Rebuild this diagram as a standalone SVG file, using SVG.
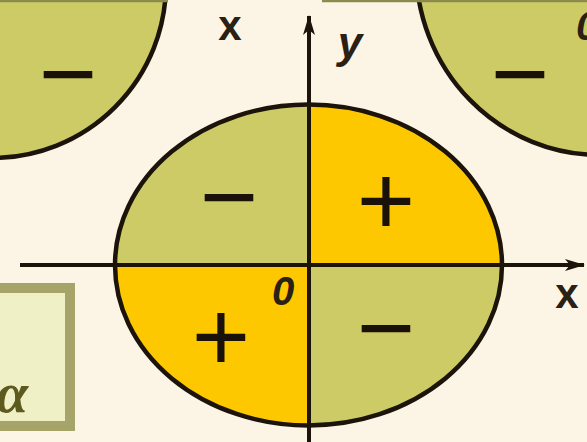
<svg xmlns="http://www.w3.org/2000/svg" width="587" height="442" viewBox="0 0 587 442">
<style>
.bg{fill:#fcf5e6}
.green{fill:#cdcb65}
.gold{fill:#fdc800}
.outline{fill:none;stroke:#1c140a;stroke-width:4.5}
.axis{stroke:#1c140a;stroke-width:4;fill:none}
.sign{font-family:"Liberation Sans",Arial,sans-serif;font-size:100px;fill:#1a1208;text-anchor:middle}
.lbl{font-family:"Liberation Sans",Arial,sans-serif;font-weight:bold;fill:#2a2014}
</style>
<defs>
<marker id="arr" viewBox="0 0 20 12" refX="19" refY="6" markerWidth="20" markerHeight="12" markerUnits="userSpaceOnUse" orient="auto">
<path d="M0,0 L20,6 L0,12 L5,6 Z" fill="#1c140a"/>
</marker>
</defs>
<rect class="bg" x="0" y="0" width="587" height="442"/>

<g id="top-left-ellipse">
<circle class="green" cx="-8" cy="-16" r="174"/>
<circle class="outline" cx="-8" cy="-16" r="174"/>
<text class="sign" x="68" y="108">−</text>
</g>

<g id="top-right-ellipse">
<ellipse class="green" cx="600" cy="-33" rx="184" ry="188"/>
<ellipse class="outline" cx="600" cy="-33" rx="184" ry="188"/>
<text class="sign" x="520" y="108">−</text>
<text class="lbl" x="576" y="40" font-size="40" font-style="italic" font-weight="normal">0</text>
</g>

<g id="top-border">
<line x1="0" y1="1" x2="168" y2="1" stroke="#8c8a4c" stroke-width="2.5"/>
<line x1="322" y1="1" x2="587" y2="1" stroke="#8c8a4c" stroke-width="2.5"/>
</g>

<g id="label-box">
<rect x="-10" y="288" width="80" height="138" fill="#eff0c6" stroke="#a6a468" stroke-width="10"/>
<text x="28" y="412" font-family="Liberation Serif,serif" font-size="58" font-style="italic" font-weight="bold" fill="#5c5a1e" text-anchor="end">α</text>
</g>

<g id="main-ellipse">
<ellipse class="green" cx="308.5" cy="265" rx="193.5" ry="160.5"/>
<path class="gold" d="M308.5,265 L308.5,104.5 A193.5,160.5 0 0 1 502,265 Z"/>
<path class="gold" d="M308.5,265 L115,265 A193.5,160.5 0 0 0 308.5,425.5 Z"/>
<ellipse class="outline" cx="308.5" cy="265" rx="193.5" ry="160.5"/>
<text class="sign" x="229" y="231">−</text>
<text class="sign" x="386" y="235">+</text>
<text class="sign" x="221" y="371">+</text>
<text class="sign" x="386" y="362">−</text>
</g>

<g id="connectors">
<line class="axis" x1="20" y1="265" x2="584" y2="265" marker-end="url(#arr)"/>
<line class="axis" x1="309" y1="442" x2="309" y2="16" marker-end="url(#arr)"/>
</g>

<g id="axis-labels">
<text class="lbl" x="230" y="40" font-size="42" text-anchor="middle">x</text>
<text class="lbl" x="350" y="58" font-size="44" font-style="italic" text-anchor="middle">y</text>
<text class="lbl" x="567" y="308" font-size="42" text-anchor="middle">x</text>
<text class="lbl" x="283" y="305" font-size="40" font-style="italic" font-weight="normal" fill="#3a2a12" text-anchor="middle">0</text>
</g>
</svg>
